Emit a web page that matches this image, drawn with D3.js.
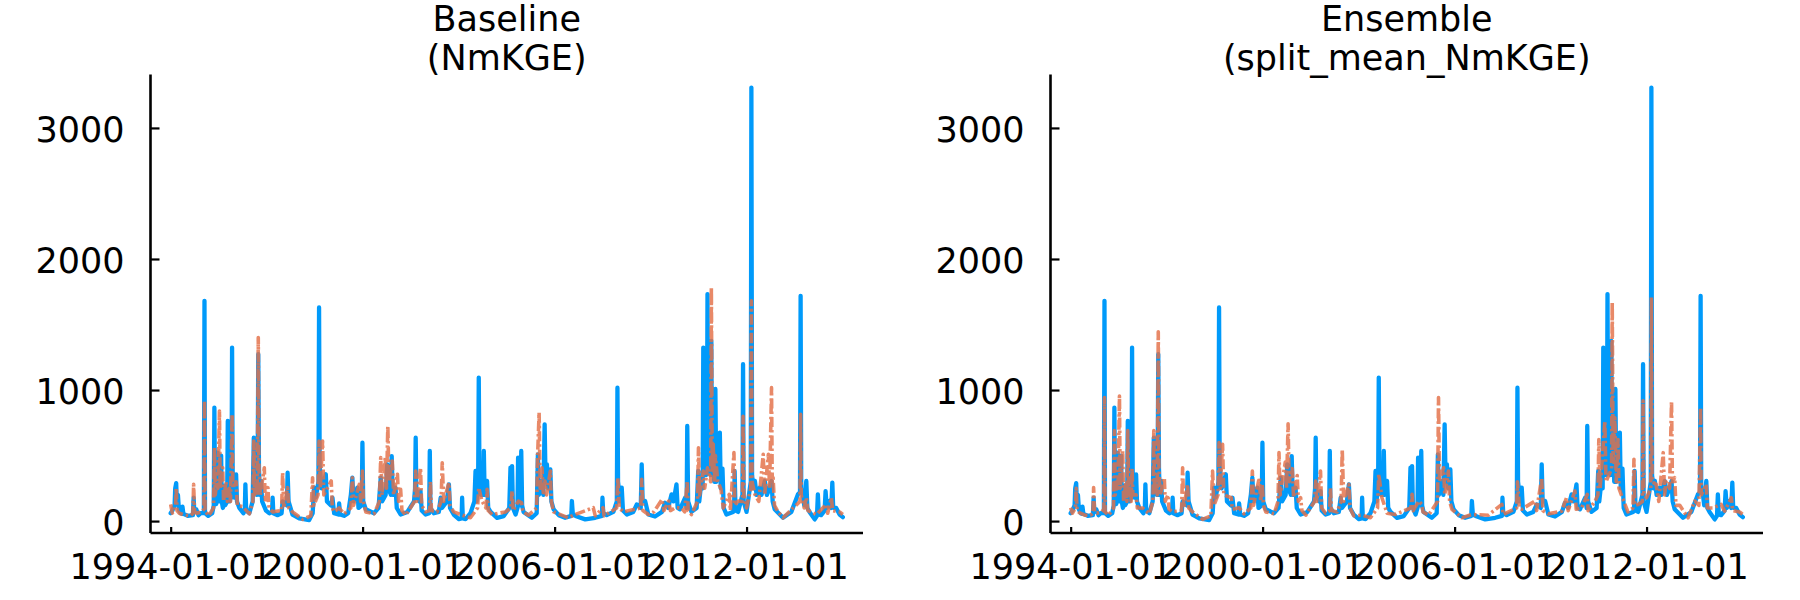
<!DOCTYPE html>
<html><head><meta charset="utf-8">
<script src="https://cdn.jsdelivr.net/npm/d3@7"></script>
<style>body{margin:0;background:#fff} svg{display:block}</style>
</head><body>
<svg id="chart" width="1800" height="600"></svg>
<script>
// Observed streamflow (blue), same in both panels
const observed = [
["1994-01-01",60],["1994-01-20",80],["1994-02-15",120],["1994-02-22",250],["1994-03-05",290],["1994-03-12",150],["1994-03-25",200],["1994-04-05",90],["1994-04-25",60],["1994-05-10",55],["1994-05-16",110],["1994-05-26",55],["1994-07-15",40],["1994-09-12",45],["1994-09-20",178],["1994-09-28",70],["1994-10-20",90],["1994-11-15",45],["1994-12-10",60],
["1995-01-15",60],["1995-01-22",1681],["1995-01-28",60],["1995-03-05",40],["1995-04-20",60],["1995-05-08",120],["1995-05-15",866],["1995-05-22",200],["1995-06-05",130],["1995-06-12",200],["1995-06-22",522],["1995-06-29",150],["1995-07-10",150],["1995-07-24",200],["1995-07-31",500],["1995-08-07",150],["1995-08-20",100],["1995-09-06",270],["1995-09-15",120],["1995-10-08",150],["1995-10-15",764],["1995-10-22",200],["1995-11-05",150],["1995-11-26",200],["1995-12-03",1324],["1995-12-10",357],["1995-12-25",180],
["1996-01-12",180],["1996-01-18",357],["1996-01-28",150],["1996-02-24",100],["1996-04-10",60],["1996-04-26",80],["1996-05-03",280],["1996-05-12",80],["1996-06-17",60],["1996-07-25",150],["1996-08-07",636],["1996-08-14",250],["1996-08-25",300],["1996-09-10",200],["1996-09-20",350],["1996-09-27",1273],["1996-10-05",400],["1996-10-15",200],["1996-10-29",306],["1996-11-10",150],["1996-12-24",80],
["1997-02-01",60],["1997-03-03",70],["1997-03-10",178],["1997-03-18",60],["1997-05-07",45],["1997-06-20",60],["1997-07-02",150],["1997-08-20",120],["1997-08-28",369],["1997-09-08",150],["1997-10-23",50],
["1998-01-08",20],["1998-05-01",8],["1998-06-10",60],["1998-06-27",255],["1998-07-15",180],["1998-08-15",300],["1998-08-22",1630],["1998-08-29",420],["1998-09-20",250],["1998-10-15",300],["1998-11-07",357],["1998-11-20",150],
["1999-01-05",120],["1999-01-22",178],["1999-02-10",60],["1999-03-30",50],["1999-04-08",134],["1999-04-20",50],["1999-06-03",40],["1999-07-20",60],["1999-08-20",200],["1999-09-06",331],["1999-09-20",150],["1999-11-02",255],["1999-11-15",100],["1999-12-22",120],["1999-12-30",598],
["2000-01-08",150],["2000-02-06",90],["2000-05-11",60],["2000-07-01",100],["2000-07-26",331],["2000-08-10",150],["2000-09-20",200],["2000-10-08",433],["2000-10-20",250],["2000-11-20",200],["2000-11-28",496],["2000-12-10",200],
["2001-01-11",255],["2001-01-25",100],["2001-03-10",50],["2001-05-26",70],["2001-08-10",150],["2001-08-22",250],["2001-08-29",636],["2001-09-06",200],["2001-10-10",150],["2001-10-23",229],["2001-11-05",80],["2001-12-20",50],
["2002-01-30",60],["2002-02-06",535],["2002-02-14",100],["2002-03-25",60],["2002-05-20",70],["2002-06-10",178],["2002-06-25",100],["2002-08-20",150],["2002-09-12",280],["2002-09-25",100],["2002-11-06",50],
["2003-01-04",15],["2003-02-04",20],["2003-02-10",178],["2003-02-18",20],["2003-03-21",15],["2003-05-16",60],["2003-06-30",150],["2003-07-13",382],["2003-07-25",150],["2003-08-12",300],["2003-08-19",1095],["2003-08-26",450],["2003-09-15",200],["2003-10-08",200],["2003-10-16",535],["2003-10-25",200],["2003-11-22",306],["2003-12-05",100],
["2004-01-01",70],["2004-03-15",25],["2004-05-30",38],["2004-08-01",100],["2004-08-15",407],["2004-08-24",150],["2004-09-02",420],["2004-09-12",100],["2004-10-12",50],["2004-11-03",100],["2004-11-10",484],["2004-11-20",150],["2004-12-08",120],["2004-12-16",535],["2004-12-26",120],
["2005-01-11",70],["2005-04-16",25],["2005-06-10",60],["2005-06-24",509],["2005-07-05",200],["2005-08-10",306],["2005-08-25",200],["2005-09-09",738],["2005-09-20",300],["2005-10-05",433],["2005-10-20",250],["2005-11-13",395],["2005-11-25",150],["2005-12-20",90],
["2006-02-17",45],["2006-05-01",25],["2006-07-10",40],["2006-07-17",153],["2006-07-28",50],["2006-09-13",35],["2006-12-16",13],
["2007-04-09",25],["2007-06-25",40],["2007-07-01",178],["2007-07-10",60],["2007-08-18",45],["2007-11-03",70],["2007-12-12",150],["2007-12-19",1018],["2007-12-26",300],
["2008-01-20",150],["2008-02-06",255],["2008-02-20",80],["2008-04-05",50],["2008-06-17",70],["2008-07-27",127],["2008-09-10",100],["2008-09-21",433],["2008-10-02",150],["2008-10-30",153],["2008-12-06",50],
["2009-02-20",35],["2009-05-10",70],["2009-06-14",140],["2009-07-20",100],["2009-08-28",204],["2009-09-20",150],["2009-10-23",280],["2009-11-05",100],["2009-12-02",90],
["2010-01-29",178],["2010-02-16",100],["2010-02-23",726],["2010-03-05",150],["2010-04-12",70],["2010-06-10",100],["2010-06-28",382],["2010-07-10",150],["2010-08-03",300],["2010-08-18",250],["2010-08-25",1324],["2010-09-02",400],["2010-09-12",600],["2010-09-25",350],["2010-10-05",400],["2010-10-12",1732],["2010-10-20",450],["2010-11-06",700],["2010-11-15",350],["2010-11-25",1375],["2010-12-02",450],["2010-12-15",500],["2010-12-28",300],
["2011-01-10",1008],["2011-01-20",300],["2011-03-02",675],["2011-03-12",250],["2011-04-01",400],["2011-04-15",100],["2011-05-16",50],["2011-07-31",70],["2011-08-12",100],["2011-08-18",382],["2011-08-28",80],["2011-09-27",70],["2011-11-15",200],["2011-11-22",1197],["2011-11-29",150],
["2012-01-01",70],["2012-02-18",300],["2012-02-25",3308],["2012-03-04",350],["2012-03-20",250],["2012-04-05",306],["2012-04-25",200],["2012-05-30",255],["2012-06-20",200],["2012-07-27",306],["2012-08-20",200],["2012-09-20",250],["2012-10-12",306],["2012-10-25",150],["2012-11-17",90],
["2013-02-20",25],["2013-05-26",70],["2013-08-10",204],["2013-09-02",220],["2013-09-09",1719],["2013-09-16",250],["2013-10-05",204],["2013-10-20",120],["2013-11-13",306],["2013-11-25",100],["2013-12-20",70],
["2014-02-17",13],["2014-03-15",40],["2014-03-25",204],["2014-04-05",50],["2014-05-01",45],["2014-06-10",80],["2014-06-21",229],["2014-07-05",100],["2014-08-07",153],["2014-08-25",100],["2014-09-06",293],["2014-09-16",100],["2014-10-20",100],["2014-11-28",50],["2015-01-04",30]
];

// Simulated, baseline (NmKGE)
const baseline = [
["1994-01-01",127],["1994-01-20",60],["1994-02-05",80],["1994-02-25",100],["1994-03-05",255],["1994-03-15",80],["1994-04-10",60],["1994-06-10",45],["1994-08-15",40],["1994-09-12",60],["1994-09-20",280],["1994-10-01",70],["1994-10-25",60],["1994-12-20",70],
["1995-01-15",90],["1995-01-22",917],["1995-01-29",80],["1995-03-10",40],["1995-05-05",100],["1995-05-15",560],["1995-05-25",200],["1995-06-10",300],["1995-06-25",250],["1995-07-12",840],["1995-07-20",250],["1995-08-18",407],["1995-08-28",150],["1995-09-24",300],["1995-10-10",150],["1995-11-01",250],["1995-11-15",150],["1995-12-03",815],["1995-12-12",250],
["1996-01-18",300],["1996-02-01",120],["1996-04-01",110],["1996-06-17",55],["1996-07-28",150],["1996-08-07",611],["1996-08-16",200],["1996-09-01",300],["1996-09-15",200],["1996-09-27",1400],["1996-10-05",400],["1996-10-20",200],["1996-12-05",407],["1996-12-15",150],
["1997-01-15",255],["1997-01-28",100],["1997-03-10",70],["1997-06-20",80],["1997-07-02",369],["1997-07-15",100],["1997-08-28",255],["1997-09-10",100],["1997-10-23",70],
["1998-02-15",13],["1998-05-20",40],["1998-06-09",331],["1998-06-25",120],["1998-08-10",200],["1998-08-22",611],["1998-09-05",250],["1998-10-01",611],["1998-10-15",200],
["1999-01-08",306],["1999-01-20",100],["1999-02-10",70],["1999-04-08",100],["1999-06-03",55],["1999-08-20",100],["1999-09-06",331],["1999-09-20",120],["1999-11-24",280],["1999-12-10",150],["1999-12-30",382],
["2000-01-10",150],["2000-02-06",70],["2000-05-11",55],["2000-07-10",150],["2000-07-26",484],["2000-08-10",200],["2000-09-16",484],["2000-09-30",250],["2000-10-15",726],["2000-10-28",300],["2000-12-05",458],["2000-12-20",200],
["2001-02-02",357],["2001-02-15",150],["2001-03-10",242],["2001-03-25",80],["2001-05-08",45],["2001-08-15",150],["2001-08-29",382],["2001-09-10",150],["2001-10-23",407],["2001-11-05",120],["2001-12-20",70],
["2002-02-05",80],["2002-02-13",300],["2002-02-25",80],["2002-05-01",70],["2002-06-15",150],["2002-06-28",445],["2002-07-15",150],["2002-09-12",293],["2002-09-25",120],["2002-11-06",70],
["2003-02-10",45],["2003-05-16",25],["2003-08-05",100],["2003-08-19",255],["2003-09-24",153],["2003-11-10",100],["2003-11-22",242],["2003-12-05",80],
["2004-01-19",50],["2004-06-17",70],["2004-08-20",100],["2004-09-02",230],["2004-09-15",80],["2004-11-14",153],["2004-12-20",140],
["2005-01-05",70],["2005-03-10",45],["2005-06-10",100],["2005-06-20",484],["2005-07-08",827],["2005-07-20",250],["2005-08-10",407],["2005-08-25",200],["2005-09-13",306],["2005-10-01",200],["2005-11-13",382],["2005-11-25",150],["2005-12-20",70],
["2006-06-07",25],["2006-08-22",50],["2007-03-18",102],["2007-04-10",40],["2007-07-08",102],["2007-07-20",40],["2007-12-10",100],["2007-12-23",331],
["2008-01-10",100],["2008-02-24",70],["2008-09-10",100],["2008-09-21",318],["2008-10-05",80],["2008-12-06",50],
["2009-02-06",70],["2009-05-11",165],["2009-06-01",80],["2009-07-26",153],["2009-08-15",80],["2009-10-12",102],["2009-12-20",100],
["2010-01-25",70],["2010-02-23",306],["2010-03-05",80],["2010-04-12",50],["2010-06-20",150],["2010-07-01",560],["2010-07-15",200],["2010-08-25",382],["2010-09-10",250],["2010-10-12",407],["2010-11-18",300],["2010-11-25",1782],["2010-12-05",400],["2010-12-15",600],
["2011-01-01",300],["2011-01-10",500],["2011-02-06",306],["2011-03-15",242],["2011-04-10",100],["2011-06-18",204],["2011-07-01",80],["2011-08-10",522],["2011-08-20",120],["2011-09-27",153],["2011-11-15",150],["2011-11-22",800],["2011-12-01",200],
["2012-01-01",100],["2012-02-18",250],["2012-02-25",1680],["2012-03-04",300],["2012-04-05",204],["2012-05-20",150],["2012-07-09",509],["2012-07-25",200],["2012-09-06",509],["2012-09-20",250],["2012-10-12",1018],["2012-10-20",300],["2012-10-30",331],["2012-11-15",120],["2012-12-27",70],
["2013-02-20",25],["2013-09-02",150],["2013-09-09",815],["2013-09-16",200],["2013-10-20",100],["2013-11-13",178],["2013-12-01",80],
["2014-03-08",50],["2014-06-28",127],["2014-07-15",60],["2014-08-26",178],["2014-09-10",80],["2014-11-28",70],["2015-01-04",50]
];

// Simulated, ensemble (split_mean_NmKGE)
const ensemble = [
["1994-01-01",102],["1994-01-20",60],["1994-02-25",100],["1994-03-05",250],["1994-03-15",80],["1994-04-10",65],["1994-06-10",45],["1994-08-15",45],["1994-09-12",60],["1994-09-20",255],["1994-10-01",70],["1994-10-25",60],["1994-12-20",70],
["1995-01-15",90],["1995-01-22",942],["1995-01-29",70],["1995-03-10",45],["1995-05-05",100],["1995-05-15",690],["1995-05-25",200],["1995-06-10",300],["1995-06-25",250],["1995-07-12",955],["1995-07-20",250],["1995-08-18",535],["1995-08-28",150],["1995-09-24",300],["1995-10-05",150],["1995-10-15",690],["1995-10-25",200],["1995-11-10",250],["1995-11-22",150],["1995-12-03",400],["1995-12-12",200],
["1996-01-18",200],["1996-02-01",100],["1996-04-01",100],["1996-06-17",55],["1996-07-28",150],["1996-08-07",690],["1996-08-16",200],["1996-09-01",300],["1996-09-15",200],["1996-09-27",1444],["1996-10-05",400],["1996-10-20",200],["1996-12-05",331],["1996-12-15",150],
["1997-01-15",200],["1997-01-28",90],["1997-03-10",70],["1997-06-20",80],["1997-07-02",407],["1997-07-15",100],["1997-08-28",280],["1997-09-10",100],["1997-10-23",70],
["1998-02-15",13],["1998-05-20",40],["1998-06-09",382],["1998-06-25",120],["1998-08-10",200],["1998-08-22",599],["1998-09-05",250],["1998-10-01",586],["1998-10-15",200],
["1999-01-08",178],["1999-01-20",90],["1999-04-08",102],["1999-06-03",55],["1999-08-20",100],["1999-09-06",382],["1999-09-20",120],["1999-11-24",331],["1999-12-10",150],["1999-12-30",280],
["2000-01-10",120],["2000-02-06",70],["2000-05-11",55],["2000-06-25",150],["2000-07-06",522],["2000-07-20",200],["2000-09-16",450],["2000-09-30",250],["2000-10-18",743],["2000-10-30",300],["2000-12-05",400],["2000-12-20",180],
["2001-01-30",347],["2001-02-12",150],["2001-03-10",178],["2001-03-25",80],["2001-05-08",45],["2001-08-15",150],["2001-08-29",305],["2001-09-10",150],["2001-10-23",382],["2001-11-05",100],["2001-12-20",60],
["2002-02-05",80],["2002-02-13",250],["2002-02-25",80],["2002-05-01",70],["2002-06-15",150],["2002-06-28",547],["2002-07-15",150],["2002-09-12",280],["2002-09-25",100],["2002-11-06",40],
["2003-02-10",45],["2003-05-16",25],["2003-08-05",100],["2003-08-19",357],["2003-09-24",178],["2003-11-22",60],
["2004-02-20",50],["2004-08-20",100],["2004-09-02",204],["2004-09-15",80],["2004-11-17",153],["2004-12-23",127],
["2005-01-05",70],["2005-03-10",45],["2005-06-20",150],["2005-07-01",942],["2005-07-12",300],["2005-08-28",407],["2005-09-10",200],["2005-10-22",382],["2005-11-05",150],["2005-12-01",90],
["2006-03-25",25],["2006-07-17",50],["2007-01-22",45],["2007-03-18",76],["2007-06-24",127],["2007-07-10",50],["2007-12-10",100],["2007-12-19",300],
["2008-01-10",100],["2008-02-06",90],["2008-07-08",153],["2008-07-25",80],["2008-09-21",331],["2008-10-05",80],["2008-12-06",55],
["2009-05-08",76],["2009-07-01",178],["2009-07-20",80],["2009-10-05",229],["2009-10-20",90],["2009-12-20",100],
["2010-02-23",204],["2010-03-05",80],["2010-05-22",150],["2010-06-25",200],["2010-07-05",623],["2010-07-20",250],["2010-09-12",764],["2010-09-25",300],["2010-11-28",400],["2010-12-05",1668],["2010-12-15",450],
["2011-01-04",789],["2011-01-20",300],["2011-02-09",623],["2011-02-20",250],["2011-03-17",204],["2011-06-02",70],["2011-07-30",100],["2011-08-10",471],["2011-08-20",120],["2011-09-27",127],["2011-11-15",150],["2011-11-22",917],["2011-12-01",200],
["2012-01-01",178],["2012-02-18",250],["2012-02-25",1706],["2012-03-04",300],["2012-04-19",280],["2012-05-20",150],["2012-07-09",522],["2012-07-25",200],["2012-08-10",300],["2012-09-20",250],["2012-10-12",917],["2012-10-22",300],["2012-11-17",331],["2012-12-01",120],
["2013-01-14",120],["2013-04-19",25],["2013-07-05",153],["2013-08-20",120],["2013-09-09",866],["2013-09-16",200],["2013-11-13",280],["2013-11-25",100],
["2014-01-26",100],["2014-05-01",127],["2014-06-10",76],["2014-08-26",178],["2014-09-10",80],["2014-11-28",70],["2015-01-04",50]
];

const panelTitles = [["Baseline", "(NmKGE)"], ["Ensemble", "(split_mean_NmKGE)"]];
const panelSims = [baseline, ensemble];
const yTickValues = [0, 1000, 2000, 3000];
const xTickDates = ["1994-01-01", "2000-01-01", "2006-01-01", "2012-01-01"];

const parse = d3.timeParse("%Y-%m-%d");
const fmt = d3.timeFormat("%Y-%m-%d");
const FONT = "DejaVu Sans, sans-serif";
const FS = 35;

const svg = d3.select("#chart");
const W = 1800, H = 600;
svg.append("rect").attr("width", W).attr("height", H).attr("fill", "#fff");

// shared extents (Plots-style 3% widening)
const allSeries = [observed, baseline, ensemble];
const allDates = allSeries.flat().map(d => parse(d[0]));
const allVals = allSeries.flat().map(d => d[1]);
const [t0, t1] = d3.extent(allDates);
const tPad = (t1 - t0) * 0.03;
const [v0, v1] = d3.extent(allVals);
const vPad = (v1 - v0) * 0.03;

const panel = {left: 150.5, right: 863, top: 74.6, bottom: 533};

panelTitles.forEach((title, i) => {
  const off = i * 900;
  const g = svg.append("g").attr("transform", `translate(${off},0)`);
  const x = d3.scaleTime().domain([new Date(+t0 - tPad), new Date(+t1 + tPad)]).range([panel.left, panel.right]);
  const y = d3.scaleLinear().domain([v0 - vPad, v1 + vPad]).range([panel.bottom, panel.top]);

  const line = d3.line().x(d => x(parse(d[0]))).y(d => y(d[1]));

  g.append("path").datum(observed).attr("d", line)
    .attr("fill", "none").attr("stroke", "#009AFA").attr("stroke-width", 4.3)
    .attr("stroke-linejoin", "round").attr("stroke-linecap", "round");

  g.append("path").datum(panelSims[i]).attr("d", line)
    .attr("fill", "none").attr("stroke", "#E36F47").attr("stroke-opacity", 0.82)
    .attr("stroke-width", 3.6).attr("stroke-dasharray", "10,3,2.5,3")
    .attr("stroke-linejoin", "round");

  // axes
  const yAxis = d3.axisLeft(y).tickValues(yTickValues).tickFormat(d3.format("d"))
    .tickSizeInner(-9).tickSizeOuter(0).tickPadding(26);
  const xAxis = d3.axisBottom(x).tickValues(xTickDates.map(parse)).tickFormat(fmt)
    .tickSizeInner(-6).tickSizeOuter(0).tickPadding(21);

  const ga = g.append("g").attr("transform", `translate(${panel.left},0)`).call(yAxis);
  const gb = g.append("g").attr("transform", `translate(0,${panel.bottom})`).call(xAxis);
  [ga, gb].forEach(a => {
    a.select(".domain").attr("stroke", "#000").attr("stroke-width", 2.6);
    a.selectAll(".tick line").attr("stroke", "#000").attr("stroke-width", 2.2);
    a.selectAll(".tick text").attr("fill", "#000").style("font-family", FONT).style("font-size", FS + "px");
  });
  ga.selectAll(".tick text").attr("dy", "0.38em");
  ga.select(".domain").attr("d", `M0,${panel.bottom}V${panel.top}`);
  gb.select(".domain").attr("d", `M${panel.left},0H${panel.right}`);

  // title
  const cx = (panel.left + panel.right) / 2;
  const tt = g.append("text").attr("text-anchor", "middle")
    .style("font-family", FONT).style("font-size", FS + "px").attr("fill", "#000");
  tt.append("tspan").attr("x", cx).attr("y", 31).text(title[0]);
  tt.append("tspan").attr("x", cx).attr("y", 70).text(title[1]);
});
</script>
</body></html>
